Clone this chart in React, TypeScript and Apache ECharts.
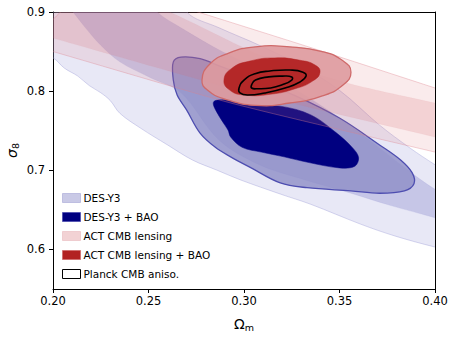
import React, { useEffect, useRef } from "react";
import * as echarts from "echarts";

// Tick values
const xTicks = [0.2, 0.25, 0.3, 0.35, 0.4];
const yTicks = [0.6, 0.7, 0.8, 0.9];

// Contour outlines, [Omega_m, sigma_8]
const desY3Outer = [
  [0.188, 0.928], [0.269, 0.928], [0.27, 0.9], [0.287, 0.88], [0.308, 0.858], [0.329, 0.833],
  [0.35, 0.801], [0.371, 0.757], [0.387, 0.728], [0.4, 0.707], [0.405, 0.7], [0.405, 0.601],
  [0.4, 0.603], [0.379, 0.617], [0.361, 0.632], [0.335, 0.657], [0.319, 0.67], [0.298, 0.688],
  [0.286, 0.7], [0.273, 0.713], [0.26, 0.732], [0.246, 0.753], [0.235, 0.772], [0.23, 0.788],
  [0.225, 0.798], [0.219, 0.807], [0.213, 0.819], [0.206, 0.829], [0.2, 0.842], [0.188, 0.852],
];
const desY3Inner = [
  [0.205, 0.915], [0.2105, 0.9], [0.217, 0.88], [0.225, 0.858], [0.235, 0.837], [0.251, 0.817],
  [0.267, 0.798], [0.287, 0.738], [0.308, 0.707], [0.329, 0.69], [0.356, 0.671], [0.376, 0.656],
  [0.4, 0.64], [0.405, 0.636], [0.405, 0.672], [0.4, 0.676], [0.387, 0.698], [0.371, 0.728],
  [0.35, 0.766], [0.329, 0.799], [0.308, 0.827], [0.287, 0.852], [0.267, 0.88], [0.2545, 0.9],
  [0.251, 0.915],
];
const desBaoOuter = [
  [0.263, 0.837], [0.267, 0.843], [0.277, 0.841], [0.287, 0.832], [0.303, 0.817], [0.327, 0.794],
  [0.35, 0.766], [0.371, 0.732], [0.382, 0.713], [0.388, 0.697], [0.389, 0.683], [0.384, 0.674],
  [0.371, 0.671], [0.356, 0.674], [0.333, 0.678], [0.319, 0.684], [0.303, 0.704], [0.293, 0.717],
  [0.285, 0.729], [0.277, 0.747], [0.27, 0.776], [0.265, 0.795], [0.263, 0.814],
];
const desBaoInner = [
  [0.284, 0.786], [0.29, 0.789], [0.303, 0.782], [0.319, 0.781], [0.335, 0.77], [0.348, 0.748],
  [0.357, 0.728], [0.36, 0.716], [0.358, 0.705], [0.35, 0.703], [0.3335, 0.71], [0.321, 0.717],
  [0.309, 0.723], [0.299, 0.729], [0.293, 0.742], [0.2916, 0.751], [0.2869, 0.7686],
];
const actOuter = [
  [0.225, 0.939], [0.272, 0.903], [0.335, 0.855], [0.4, 0.804], [0.405, 0.8], [0.405, 0.721],
  [0.4, 0.723], [0.293, 0.785], [0.2, 0.85], [0.188, 0.858],
];
const actInner = [
  [0.225, 0.93], [0.261, 0.9], [0.308, 0.846], [0.356, 0.809], [0.4, 0.785], [0.405, 0.783],
  [0.405, 0.74], [0.4, 0.742], [0.293, 0.804], [0.2, 0.867], [0.188, 0.876],
];
const actBaoOuter = [
  [0.278, 0.814], [0.282, 0.834], [0.292, 0.848], [0.306, 0.856], [0.324, 0.856], [0.341, 0.85],
  [0.352, 0.838], [0.356, 0.824], [0.352, 0.808], [0.341, 0.794], [0.324, 0.785], [0.306, 0.782],
  [0.29, 0.79], [0.281, 0.801],
];
const actBaoInner = [
  [0.2895, 0.814], [0.2937, 0.829], [0.3031, 0.838], [0.3162, 0.842], [0.3293, 0.839], [0.3372, 0.833],
  [0.3398, 0.824], [0.3361, 0.813], [0.3267, 0.803], [0.3136, 0.796], [0.3005, 0.795], [0.2927, 0.801],
];
const planckOuter = [
  [0.2974, 0.804], [0.3, 0.814], [0.3058, 0.822], [0.3136, 0.8255], [0.3241, 0.8267], [0.3309, 0.824],
  [0.3325, 0.819], [0.3293, 0.8116], [0.3215, 0.804], [0.311, 0.7977], [0.3021, 0.7951], [0.2979, 0.7977],
];
const planckInner = [
  [0.304, 0.808], [0.306, 0.814], [0.313, 0.818], [0.32, 0.819], [0.325, 0.818], [0.325, 0.814],
  [0.32, 0.808], [0.314, 0.804], [0.307, 0.803], [0.304, 0.804],
];

const FONT = "DejaVu Sans";

function contour(name: string, points: number[][], style: any, smooth = 0.35) {
  return {
    type: "custom",
    name,
    coordinateSystem: "cartesian2d",
    clip: true,
    silent: true,
    data: points,
    encode: { x: 0, y: 1 },
    renderItem: (params: any, api: any) => {
      if (params.dataIndex !== 0) return null;
      const pts = points.map((p) => api.coord(p));
      return {
        type: "polygon",
        shape: { points: pts, smooth },
        style,
      };
    },
  };
}

export default function App() {
  const ref = useRef<HTMLDivElement>(null);
  useEffect(() => {
    if (!ref.current) return;
    const chart = echarts.init(ref.current, null, { renderer: "svg" });
    const option: any = {
      animation: false,
      textStyle: { fontFamily: FONT },
      grid: { left: 53, top: 12, width: 382, height: 277, containLabel: false, outerBoundsMode: "none" },
      legend: {
        orient: "vertical",
        left: 62,
        top: 192,
        padding: 0,
        itemWidth: 18,
        itemHeight: 9,
        itemGap: 7,
        selectedMode: false,
        textStyle: { fontFamily: FONT, fontSize: 10.5, color: "#000", lineHeight: 12, padding: [0, 0, 0, -2] },
        data: [
          { name: "DES-Y3", icon: "rect", itemStyle: { color: "#c9c9e6", borderColor: "#b4b4dc", borderWidth: 0.8 } },
          { name: "DES-Y3 + BAO", icon: "rect", itemStyle: { color: "#000080", borderColor: "#4d4db0", borderWidth: 0.8 } },
          { name: "ACT CMB lensing", icon: "rect", itemStyle: { color: "#f2d2d4", borderColor: "#ecc4c8", borderWidth: 0.8 } },
          { name: "ACT CMB lensing + BAO", icon: "rect", itemStyle: { color: "#b22222", borderColor: "#cf6a6a", borderWidth: 0.8 } },
          { name: "Planck CMB aniso.", icon: "rect", itemStyle: { color: "#ffffff", borderColor: "#000", borderWidth: 1 } },
        ],
      },
      xAxis: [
        {
          type: "value",
          min: 0.2,
          max: 0.4,
          interval: 0.05,
          position: "bottom",
          axisLine: { show: true, onZero: false, lineStyle: { color: "#000", width: 1 } },
          axisTick: { show: true, length: 4, customValues: xTicks, lineStyle: { color: "#000", width: 1 } },
          axisLabel: {
            customValues: xTicks,
            formatter: (v: number) => v.toFixed(2),
            color: "#000",
            fontSize: 11.5,
            fontFamily: FONT,
            margin: 6,
          },
          splitLine: { show: false },
          name: "{o|Ω}{s|m}",
          nameLocation: "middle",
          nameGap: 26,
          nameTextStyle: {
            color: "#000",
            fontFamily: FONT,
            fontSize: 14,
            rich: {
              o: { fontSize: 14, fontFamily: FONT, color: "#000" },
              s: { fontSize: 9.5, fontFamily: FONT, color: "#000", padding: [7, 0, 0, 0] },
            },
          },
        },
        {
          type: "value",
          min: 0.2,
          max: 0.4,
          position: "top",
          axisLine: { show: true, onZero: false, lineStyle: { color: "#000", width: 1 } },
          axisTick: { show: false },
          axisLabel: { show: false },
          splitLine: { show: false },
        },
      ],
      yAxis: [
        {
          type: "value",
          min: 0.55,
          max: 0.9,
          position: "left",
          axisLine: { show: true, onZero: false, lineStyle: { color: "#000", width: 1 } },
          axisTick: { show: true, length: 4, customValues: yTicks, lineStyle: { color: "#000", width: 1 } },
          axisLabel: {
            customValues: yTicks,
            formatter: (v: number) => v.toFixed(1),
            color: "#000",
            fontSize: 11.5,
            fontFamily: FONT,
            margin: 8,
          },
          splitLine: { show: false },
          name: "{s|σ}{t|8}",
          nameLocation: "middle",
          nameGap: 33,
          nameMoveOverlap: false,
          nameRotate: 90,
          nameTextStyle: {
            color: "#000",
            fontFamily: FONT,
            fontSize: 14,
            rich: {
              s: { fontSize: 14, fontStyle: "italic", fontFamily: FONT, color: "#000" },
              t: { fontSize: 9.5, fontFamily: FONT, color: "#000", padding: [7, 0, 0, 0] },
            },
          },
        },
        {
          type: "value",
          min: 0.55,
          max: 0.9,
          position: "right",
          axisLine: { show: true, onZero: false, lineStyle: { color: "#000", width: 1 } },
          axisTick: { show: false },
          axisLabel: { show: false },
          splitLine: { show: false },
        },
      ],
      series: [
        contour("DES-Y3", desY3Outer, { fill: "rgba(170,170,222,0.27)", stroke: "rgba(160,160,215,0.55)", lineWidth: 0.8 }),
        contour("DES-Y3 68", desY3Inner, { fill: "rgba(130,130,200,0.33)", stroke: "rgba(130,130,200,0.2)", lineWidth: 0.6 }),
        contour("DES-Y3 + BAO", desBaoOuter, { fill: "rgba(141,141,199,0.8)", stroke: "#4d4db0", lineWidth: 1.3 }),
        contour("DES-Y3 + BAO 68", desBaoInner, { fill: "#000080", stroke: "#000080", lineWidth: 0.5 }),
        contour("ACT CMB lensing", actOuter, { fill: "rgba(222,120,130,0.15)", stroke: "rgba(220,130,140,0.45)", lineWidth: 0.8 }, 0.2),
        contour("ACT CMB lensing 68", actInner, { fill: "rgba(215,110,120,0.2)", stroke: "rgba(215,110,120,0.1)", lineWidth: 0.5 }, 0.2),
        contour("ACT CMB lensing + BAO", actBaoOuter, { fill: "rgba(222,154,158,0.9)", stroke: "#cf6a6a", lineWidth: 1.3 }, 0.5),
        contour("ACT CMB lensing + BAO 68", actBaoInner, { fill: "rgba(178,34,34,0.95)", stroke: "rgba(178,34,34,0.95)", lineWidth: 0.5 }, 0.5),
        contour("Planck CMB aniso.", planckOuter, { fill: "none", stroke: "#000", lineWidth: 1.6 }, 0.5),
        contour("Planck CMB aniso. 68", planckInner, { fill: "none", stroke: "#000", lineWidth: 1.6 }, 0.5),
      ],
    };
    chart.setOption(option);
    return () => chart.dispose();
  }, []);
  return (
    <div
      ref={ref}
      style={{ position: "absolute", left: 0, top: 0, width: 457, height: 339 }}
    />
  );
}
